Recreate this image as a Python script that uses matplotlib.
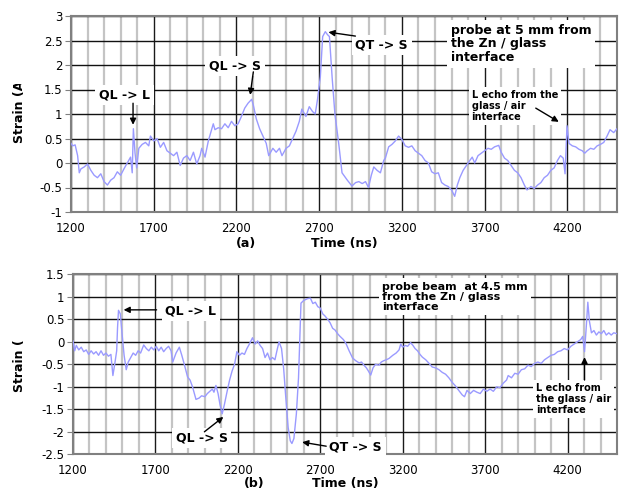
import matplotlib
matplotlib.use("Agg")
import matplotlib.pyplot as plt
import numpy as np
from matplotlib.transforms import Bbox
from matplotlib.ticker import FuncFormatter

plt.rcParams['font.family'] = 'DejaVu Sans'
plt.rcParams['axes.unicode_minus'] = False

# (a) probe at 5 mm
t_a = [1200, 1210, 1225, 1240, 1250, 1260, 1280, 1300, 1320, 1340, 1360, 1380, 1400, 1420,
       1440, 1460, 1480, 1500, 1520, 1540, 1560, 1570, 1577, 1587, 1597, 1610, 1630, 1650,
       1670, 1680, 1700, 1720, 1740, 1760, 1780, 1800, 1820, 1840, 1860, 1880, 1900, 1920,
       1940, 1960, 1980, 1990, 2010, 2030, 2060, 2070, 2090, 2110, 2130, 2150, 2170, 2190,
       2210, 2230, 2250, 2270, 2292, 2302, 2320, 2340, 2360, 2380, 2395, 2420, 2440, 2460,
       2475, 2500, 2520, 2540, 2560, 2580, 2595, 2620, 2640, 2660, 2676, 2690, 2707, 2721,
       2737, 2750, 2762, 2778, 2795, 2818, 2838, 2855, 2870, 2898, 2920, 2940, 2960, 2980,
       2998, 3015, 3030, 3050, 3070, 3090, 3100, 3120, 3140, 3160, 3180, 3200, 3220, 3240,
       3260, 3280, 3300, 3320, 3340, 3360, 3380, 3400, 3420, 3440, 3460, 3480, 3500, 3519,
       3535, 3550, 3570, 3590, 3610, 3625, 3640, 3660, 3680, 3700, 3720, 3740, 3760, 3785,
       3800, 3820, 3840, 3860, 3880, 3900, 3920, 3940, 3956, 3980, 4000, 4020, 4040, 4060,
       4080, 4100, 4120, 4140, 4158, 4175, 4186, 4198, 4210, 4230, 4250, 4270, 4290, 4305,
       4320, 4340, 4360, 4380, 4400, 4420, 4440, 4458, 4480, 4500]
s_a = [0.40, 0.35, 0.37, 0.15, -0.20, -0.12, -0.08, -0.02, -0.15, -0.25, -0.30, -0.22, -0.38, -0.45,
       -0.35, -0.30, -0.18, -0.25, -0.12, 0.00, 0.12, -0.20, 0.70, 0.20, -0.10, 0.30, 0.38, 0.42,
       0.35, 0.55, 0.45, 0.50, 0.32, 0.42, 0.25, 0.20, 0.15, 0.22, -0.05, 0.10, 0.15, 0.05,
       0.22, -0.02, 0.15, 0.30, 0.12, 0.45, 0.80, 0.68, 0.72, 0.70, 0.80, 0.72, 0.85, 0.76,
       0.80, 0.95, 1.12, 1.22, 1.30, 1.18, 0.90, 0.70, 0.55, 0.40, 0.15, 0.30, 0.22, 0.30,
       0.15, 0.30, 0.35, 0.50, 0.65, 0.85, 1.10, 0.95, 1.15, 1.05, 1.00, 1.30, 1.76, 2.58,
       2.68, 2.62, 2.58, 1.76, 1.00, 0.40, -0.20, -0.28, -0.35, -0.47, -0.40, -0.38, -0.42, -0.38,
       -0.50, -0.25, -0.08, -0.15, -0.20, 0.05, 0.10, 0.33, 0.38, 0.45, 0.55, 0.48, 0.35, 0.32,
       0.35, 0.25, 0.20, 0.15, 0.05, 0.00, -0.18, -0.22, -0.20, -0.40, -0.45, -0.48, -0.55, -0.68,
       -0.45, -0.30, -0.15, -0.05, 0.05, 0.12, 0.00, 0.15, 0.20, 0.25, 0.30, 0.28, 0.33, 0.36,
       0.22, 0.10, 0.05, -0.05, -0.15, -0.20, -0.30, -0.45, -0.55, -0.48, -0.52, -0.45, -0.40, -0.30,
       -0.25, -0.15, -0.10, 0.05, 0.15, 0.10, -0.22, 0.76, 0.40, 0.35, 0.33, 0.28, 0.25, 0.20,
       0.25, 0.30, 0.28, 0.35, 0.38, 0.42, 0.55, 0.68, 0.62, 0.70]

# (b) probe beam at 4.5 mm
t_b = [1200, 1210, 1220, 1235, 1250, 1265, 1280, 1295, 1310, 1325, 1340, 1355, 1370, 1385,
       1400, 1415, 1430, 1442, 1455, 1465, 1470, 1476, 1487, 1497, 1510, 1523, 1535, 1550,
       1565, 1580, 1595, 1610, 1629, 1645, 1660, 1675, 1690, 1705, 1720, 1735, 1750, 1765,
       1780, 1795, 1805, 1825, 1845, 1860, 1875, 1895, 1910, 1925, 1946, 1965, 1980, 2000,
       2015, 2030, 2045, 2055, 2067, 2080, 2092, 2105, 2118, 2135, 2150, 2165, 2180, 2194,
       2210, 2225, 2240, 2255, 2270, 2289, 2305, 2320, 2335, 2350, 2365, 2380, 2395, 2410,
       2425, 2440, 2450, 2465, 2478, 2490, 2505, 2518, 2528, 2540, 2555, 2568, 2583, 2600,
       2623, 2640, 2655, 2670, 2685, 2700, 2715, 2727, 2745, 2760, 2775, 2790, 2805, 2820,
       2840, 2855, 2875, 2896, 2915, 2936, 2950, 2965, 2980, 2992, 3006, 3020, 3035, 3056,
       3070, 3085, 3100, 3117, 3140, 3160, 3178, 3188, 3200, 3215, 3230, 3248, 3262, 3275,
       3290, 3305, 3319, 3340, 3360, 3379, 3400, 3420, 3440, 3460, 3480, 3500, 3520, 3540,
       3561, 3575, 3590, 3610, 3630, 3650, 3670, 3690, 3710, 3730, 3750, 3770, 3790, 3810,
       3830, 3840, 3860, 3880, 3900, 3920, 3940, 3960, 3980, 4000, 4020, 4040, 4060, 4080,
       4100, 4120, 4140, 4160, 4180, 4200, 4220, 4240, 4260, 4280, 4292, 4303, 4313, 4323,
       4333, 4345, 4360, 4375, 4390, 4405, 4420, 4435, 4450, 4465, 4480, 4500]
s_b = [0.02, -0.20, -0.08, -0.18, -0.12, -0.22, -0.18, -0.28, -0.20, -0.27, -0.22, -0.30, -0.20, -0.30,
       -0.25, -0.32, -0.28, -0.75, -0.45, -0.20, 0.30, 0.70, 0.62, 0.20, -0.30, -0.62, -0.45, -0.35,
       -0.25, -0.30, -0.20, -0.25, -0.07, -0.15, -0.20, -0.12, -0.18, -0.10, -0.20, -0.12, -0.22, -0.15,
       -0.10, -0.20, -0.45, -0.25, -0.12, -0.30, -0.50, -0.78, -0.85, -1.00, -1.28, -1.25, -1.20, -1.22,
       -1.15, -1.10, -1.05, -1.12, -0.97, -1.15, -1.40, -1.60, -1.40, -1.10, -0.85, -0.65, -0.50, -0.22,
       -0.30, -0.25, -0.28, -0.15, -0.05, 0.09, -0.05, 0.02, -0.08, -0.15, -0.35, -0.25, -0.40, -0.35,
       -0.40, -0.15, 0.00, -0.15, -0.60, -1.20, -1.90, -2.20, -2.26, -2.15, -1.60, -0.80, 0.86, 0.92,
       0.96, 0.97, 0.85, 0.88, 0.78, 0.75, 0.62, 0.58, 0.50, 0.42, 0.30, 0.26, 0.18, 0.12,
       0.05, -0.03, -0.20, -0.36, -0.42, -0.47, -0.45, -0.52, -0.58, -0.65, -0.74, -0.58, -0.50, -0.52,
       -0.45, -0.42, -0.40, -0.37, -0.30, -0.25, -0.18, -0.05, -0.12, -0.08, -0.10, -0.02, -0.08, -0.15,
       -0.20, -0.28, -0.34, -0.40, -0.48, -0.56, -0.58, -0.62, -0.68, -0.72, -0.80, -0.90, -0.98, -1.08,
       -1.18, -1.22, -1.08, -1.15, -1.08, -1.12, -1.15, -1.05, -1.10, -1.05, -1.10, -1.00, -1.02, -0.92,
       -0.85, -0.75, -0.80, -0.70, -0.72, -0.62, -0.60, -0.52, -0.55, -0.48, -0.45, -0.48, -0.40, -0.35,
       -0.30, -0.28, -0.22, -0.20, -0.15, -0.18, -0.10, -0.05, 0.00, 0.05, 0.12, -0.22, 0.30, 0.88,
       0.45, 0.20, 0.25, 0.15, 0.22, 0.18, 0.25, 0.15, 0.20, 0.15, 0.20, 0.18]

line_col = '#9a9aff'

fig = plt.figure(figsize=(6.2, 4.92), dpi=100)
ax1 = fig.add_axes([71/620, 1-212/492, 546/620, 196/492])
ax2 = fig.add_axes([73/620, 1-454.3/492, 544/620, 180/492])


def style(ax, ylo, yhi):
    ax.set_xlim(1200, 4500)
    ax.set_ylim(ylo, yhi)
    ax.set_xticks(np.arange(1200, 4201, 500))
    ax.set_xticks([t for t in range(1300, 4500, 100) if (t - 1200) % 500], minor=True)
    ax.set_yticks(np.arange(ylo, yhi + 0.01, 0.5))
    ax.yaxis.set_major_formatter(FuncFormatter(lambda v, p: '%g' % v))
    ax.grid(which='minor', axis='x', color='#c4c4c4', lw=1.6)
    ax.grid(which='major', axis='x', color='#1a1a1a', lw=1.0)
    ax.grid(which='major', axis='y', color='#111111', lw=1.0)
    ax.set_axisbelow(True)
    ax.tick_params(axis='x', which='both', length=0, pad=7, labelsize=8.5)
    ax.tick_params(axis='y', length=4, color='#808080', pad=2, labelsize=8.5)
    for s in ax.spines.values():
        s.set_color('#808080')
        s.set_linewidth(1.5)


def note(ax, txt, x, y, size=9, ls=1.05):
    ax.text(x, y, txt, ha='left', va='center', fontsize=size, fontweight='bold',
            linespacing=ls, zorder=4,
            bbox=dict(boxstyle='square,pad=0.3', fc='white', ec='none'))


def arrow(ax, start, end):
    ax.annotate('', xy=end, xytext=start, zorder=5,
                arrowprops=dict(arrowstyle='-|>', color='black', lw=1,
                                mutation_scale=9, shrinkA=0, shrinkB=0))


style(ax1, -1, 3)
style(ax2, -2.5, 1.5)
ax1.plot(t_a, s_a, color=line_col, lw=1, zorder=3)
ax2.plot(t_b, s_b, color=line_col, lw=1, zorder=3)

note(ax1, 'QL -> L', 1369, 1.39)
note(ax1, 'QL -> S', 2035, 1.98)
note(ax1, 'QT -> S', 2919, 2.41)
note(ax1, 'probe at 5 mm from\nthe Zn / glass\ninterface', 3494, 2.43)
note(ax1, 'L echo from the\nglass / air\ninterface', 3621, 1.16, size=7, ls=1.1)
arrow(ax1, (1575, 1.22), (1575, 0.78))
arrow(ax1, (2302, 1.86), (2283, 1.39))
arrow(ax1, (2919, 2.59), (2756, 2.67))
arrow(ax1, (4009, 1.12), (4148, 0.84))

note(ax2, 'QL -> L', 1761, 0.68)
note(ax2, 'QL -> S', 1822, -2.14)
note(ax2, 'QT -> S', 2754, -2.34)
note(ax2, 'probe beam  at 4.5 mm\nfrom the Zn / glass\ninterface', 3075, 1.0, size=8, ls=1.0)
note(ax2, 'L echo from\nthe glass / air\ninterface', 4007, -1.27, size=7, ls=1.1)
arrow(ax2, (1707, 0.71), (1507, 0.71))
arrow(ax2, (1997, -2.0), (2112, -1.67))
arrow(ax2, (2736, -2.32), (2590, -2.23))
arrow(ax2, (4303, -0.85), (4303, -0.34))

ya = fig.text(19/620, 1-143/492, 'Strain (A', rotation=90, ha='center', va='bottom',
              fontsize=9, fontweight='bold')
ya.set_clip_box(Bbox.from_extents(0, 0, 620, 492-84))
ya.set_clip_on(True)
fig.text(20/620, 1-392/492, 'Strain (', rotation=90, ha='center', va='bottom',
         fontsize=9, fontweight='bold')

fig.text(246/620, 1-244/492, '(a)', ha='center', va='center', fontsize=9, fontweight='bold')
fig.text(344/620, 1-244/492, 'Time (ns)', ha='center', va='center', fontsize=9, fontweight='bold')
fig.text(254/620, 1-484/492, '(b)', ha='center', va='center', fontsize=9, fontweight='bold')
fig.text(345/620, 1-484/492, 'Time (ns)', ha='center', va='center', fontsize=9, fontweight='bold')

fig.savefig('out.png', dpi=100)
